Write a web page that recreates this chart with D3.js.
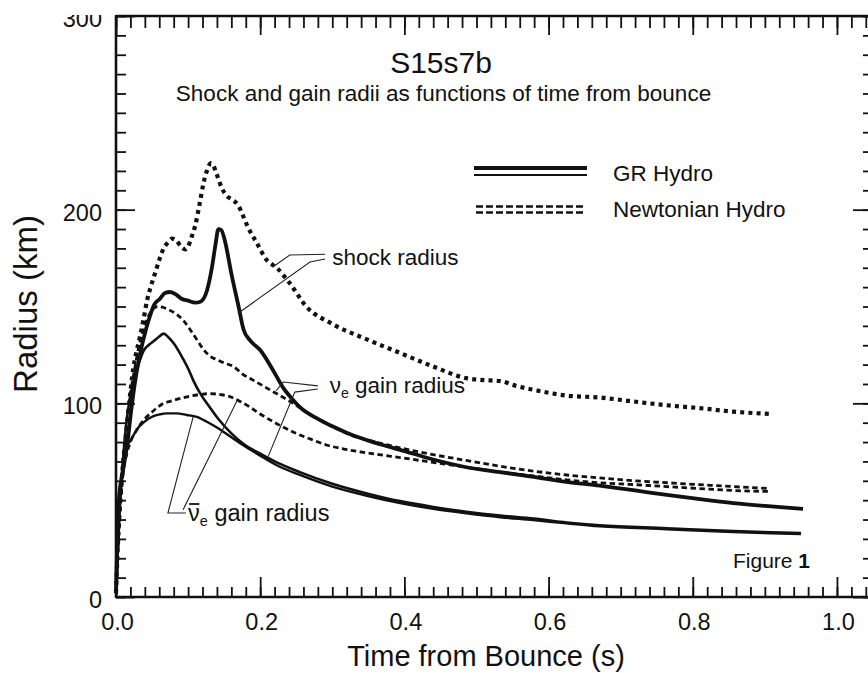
<!DOCTYPE html>
<html>
<head>
<meta charset="utf-8">
<script src="https://cdn.jsdelivr.net/npm/d3@7"></script>
<style>
  body { margin: 0; background: #fff; }
  svg { display: block; }
  text { font-family: "Liberation Sans", Arial, Helvetica, sans-serif; fill: #111; }
</style>
</head>
<body>
<svg id="chart" width="868" height="673"></svg>
<script>
// Time from bounce (s) vs radius (km), model S15s7b

// GR hydro: shock radius
const grShock = [
  [0,2],[0.002,30],[0.004,50],[0.01,66],[0.016,80],[0.021,96],[0.026,110],[0.032,123],
  [0.038,133],[0.047,145],[0.053,151],[0.061,154],[0.068,157],[0.075,157.5],[0.084,156],
  [0.091,154],[0.1,153],[0.11,152],[0.117,152.5],[0.126,158],[0.133,170],[0.138,182],
  [0.142,190],[0.146,189.5],[0.151,184],[0.16,167],[0.17,150],[0.177,138],[0.186,132.5],
  [0.2,127.5],[0.218,117],[0.232,108],[0.245,102],[0.255,98],[0.28,92],[0.301,88],
  [0.325,84],[0.348,81],[0.37,78.5],[0.394,76],[0.44,71],[0.486,67],[0.533,64.5],
  [0.579,62],[0.625,59.5],[0.671,57.5],[0.72,55],[0.764,52.7],[0.81,50.5],[0.856,48.5],
  [0.9,47],[0.953,45.5]
];

// GR hydro: nu_e gain radius
const grGainNuE = [
  [0,2],[0.003,30],[0.006,52],[0.01,72],[0.015,92],[0.02,104],[0.026,114],[0.032,121],
  [0.038,127],[0.045,130],[0.052,132],[0.06,134.5],[0.066,136],[0.073,134],[0.08,131],
  [0.087,127],[0.093,123],[0.1,118],[0.107,112],[0.117,105],[0.13,98],[0.144,91],
  [0.16,84.5],[0.177,79],[0.2,74],[0.223,69.5],[0.255,64.5],[0.3,58.5],[0.348,53.5],
  [0.394,49.5],[0.44,46.5],[0.486,44],[0.533,42],[0.579,40.5],[0.625,38.5],[0.671,37],
  [0.764,35.5],[0.856,34],[0.95,33]
];

// GR hydro: anti-nu_e gain radius
const grGainNuEBar = [
  [0,2],[0.003,30],[0.006,50],[0.009,65],[0.0125,76],[0.016,79],[0.019,80],[0.025,84],
  [0.031,87.5],[0.038,90],[0.045,92],[0.053,93.5],[0.061,94.3],[0.07,94.8],[0.084,94.8],
  [0.098,94],[0.112,93],[0.126,90.5],[0.14,87.5],[0.158,83],[0.176,78.5],[0.2,73],
  [0.223,68],[0.255,63],[0.3,57],[0.348,52.3],[0.394,48.5],[0.44,45.5],[0.486,43.2],
  [0.533,41.2],[0.579,39.7],[0.625,38],[0.671,36.5],[0.764,35],[0.856,33.5],[0.95,32.5]
];

// Newtonian hydro: shock radius
const newtShock = [
  [0,2],[0.003,30],[0.006,50],[0.01,70],[0.015,88],[0.02,106],[0.024,118],[0.028,126],
  [0.033,134],[0.038,143],[0.043,153],[0.048,160],[0.054,167],[0.06,174],[0.066,180],
  [0.072,183],[0.078,185],[0.084,184],[0.09,181],[0.096,179.5],[0.1,181],[0.105,186],
  [0.11,192],[0.116,203],[0.121,213],[0.126,220],[0.132,224],[0.136,222],[0.14,218],
  [0.147,211],[0.154,207],[0.162,205],[0.17,202],[0.176,197],[0.183,191],[0.195,183],
  [0.209,174],[0.223,170],[0.241,162],[0.264,150],[0.3,141],[0.348,133],[0.394,126],
  [0.44,119],[0.486,113],[0.51,112],[0.533,111.5],[0.555,109],[0.579,107],[0.625,104],
  [0.671,103],[0.717,101],[0.764,99],[0.81,97.5],[0.856,95.7],[0.909,94.5]
];

// Newtonian hydro: nu_e gain radius
const newtGainNuE = [
  [0,2],[0.003,30],[0.006,50],[0.01,70],[0.015,90],[0.02,105],[0.026,118],[0.032,130],
  [0.038,138],[0.045,145],[0.052,149],[0.058,150],[0.066,149.5],[0.075,148],[0.084,146],
  [0.093,143],[0.102,138.5],[0.112,133],[0.121,128],[0.13,124.5],[0.14,122.5],[0.149,121],
  [0.163,119],[0.176,115],[0.19,112],[0.218,106],[0.246,100],[0.27,94],[0.3,88],
  [0.33,83],[0.36,80],[0.394,77],[0.44,73.5],[0.486,70.5],[0.533,67.5],[0.579,65],
  [0.625,63],[0.671,61.5],[0.72,60],[0.764,59],[0.81,58],[0.856,57],[0.905,56]
];

// Newtonian hydro: anti-nu_e gain radius
const newtGainNuEBar = [
  [0,2],[0.003,28],[0.006,48],[0.01,64],[0.015,74],[0.02,80],[0.03,87],[0.04,92],
  [0.05,95.5],[0.058,98],[0.066,100],[0.075,101],[0.084,102],[0.1,103.5],[0.115,104.5],
  [0.13,105],[0.145,104.5],[0.158,103.5],[0.172,101],[0.186,98],[0.2,94.5],[0.223,89.5],
  [0.25,84.5],[0.27,81.5],[0.292,78.5],[0.315,76.5],[0.338,75],[0.365,73.5],[0.394,72],
  [0.44,69.5],[0.486,67],[0.533,64.5],[0.579,62.5],[0.625,60.5],[0.671,59],[0.72,58],
  [0.764,57],[0.81,56],[0.856,55],[0.905,54.5]
];

// Axis ticks and labels
const xMajorTicks = [0, 0.2, 0.4, 0.6, 0.8, 1.0];
const xTickLabels = ["0.0", "0.2", "0.4", "0.6", "0.8", "1.0"];
const yMajorTicks = [0, 100, 200, 300];
const yTickLabels = ["0", "100", "200", "300"];

// Annotation leader lines (time, radius)
const shockLeaders = [
  [[0.169,146.4],[0.269,173],[0.29,174.5]],
  [[0.218,170.5],[0.241,176.6],[0.29,177]]
];
const nuELeaders = [
  [[0.28,109],[0.232,111],[0.222,106.5]],
  [[0.28,107.4],[0.248,105.8],[0.211,72.5]]
];
const nuEBarLeaders = [
  [[0.097,43.4],[0.072,43.4],[0.107,93]],
  [[0.093,45],[0.168,101.5]]
];

const svg = d3.select("#chart");
const x = d3.scaleLinear().domain([0, 1.05]).range([116, 873]);
const y = d3.scaleLinear().domain([0, 300]).range([597, 16]);

const ink = "#111";
const font = "'Liberation Sans', Arial, sans-serif";

// Minor and major ticks on all four sides, pointing inward
const xMinor = d3.range(0, 1.0501, 0.02);
const yMinor = d3.range(0, 301, 10);

function styleAxis(g) {
  g.select(".domain").remove();
  g.selectAll(".tick line").attr("stroke", ink).attr("stroke-width", 1.8);
}

svg.append("g").attr("transform", "translate(0,597)")
  .call(d3.axisBottom(x).tickValues(xMinor).tickSize(-10).tickFormat(""))
  .call(styleAxis);
svg.append("g").attr("transform", "translate(0,16)")
  .call(d3.axisTop(x).tickValues(xMinor).tickSize(-12).tickFormat(""))
  .call(styleAxis);
svg.append("g").attr("transform", "translate(116,0)")
  .call(d3.axisLeft(y).tickValues(yMinor).tickSize(-10).tickFormat(""))
  .call(styleAxis);
svg.append("g").attr("transform", "translate(873,0)")
  .call(d3.axisRight(y).tickValues(yMinor).tickSize(-10).tickFormat(""))
  .call(styleAxis);

// Major ticks with labels
const xAxis = svg.append("g").attr("transform", "translate(0,597)")
  .call(d3.axisBottom(x).tickValues(xMajorTicks).tickSize(-20).tickPadding(16)
    .tickFormat((d, i) => xTickLabels[i]))
  .call(styleAxis);
xAxis.selectAll("text").attr("font-size", "23.5px").attr("fill", ink)
  .attr("font-family", font).attr("dx", "1");

svg.append("g").attr("transform", "translate(0,16)")
  .call(d3.axisTop(x).tickValues(xMajorTicks).tickSize(-19).tickFormat(""))
  .call(styleAxis);

// The page edge trims the top of the uppermost radius label
svg.append("defs").append("clipPath").attr("id", "pageTop")
  .append("rect").attr("x", 0).attr("y", 15).attr("width", 868).attr("height", 660);

const yAxisWrap = svg.append("g").attr("clip-path", "url(#pageTop)");
const yAxis = yAxisWrap.append("g").attr("transform", "translate(116,0)")
  .call(d3.axisLeft(y).tickValues(yMajorTicks).tickSize(-19).tickPadding(14)
    .tickFormat((d, i) => yTickLabels[i]))
  .call(styleAxis);
yAxis.selectAll("text").attr("font-size", "23.5px").attr("fill", ink)
  .attr("font-family", font).attr("dy", "0.45em");

svg.append("g").attr("transform", "translate(873,0)")
  .call(d3.axisRight(y).tickValues(yMajorTicks).tickSize(-20).tickFormat(""))
  .call(styleAxis);

// Plot frame
const frame = svg.append("g").attr("stroke", ink).attr("stroke-width", 2.6).attr("fill", "none");
frame.append("line").attr("x1", x(0)).attr("x2", x(0)).attr("y1", y(300) - 1).attr("y2", y(0) + 1);
frame.append("line").attr("x1", x(0)).attr("x2", x(1.05)).attr("y1", y(300)).attr("y2", y(300));
frame.append("line").attr("x1", x(0)).attr("x2", x(1.05)).attr("y1", y(0)).attr("y2", y(0));

// Curves
const line = d3.line().x(d => x(d[0])).y(d => y(d[1])).curve(d3.curveMonotoneX);
const curves = [
  { data: newtShock, width: 4.2, dash: "4,4.2" },
  { data: newtGainNuE, width: 2.8, dash: "5.5,3.5" },
  { data: newtGainNuEBar, width: 2.8, dash: "5.5,3.5" },
  { data: grGainNuE, width: 2.6, dash: null },
  { data: grGainNuEBar, width: 2.4, dash: null },
  { data: grShock, width: 3.8, dash: null }
];
svg.append("g").selectAll("path").data(curves).join("path")
  .attr("d", d => line(d.data))
  .attr("fill", "none")
  .attr("stroke", ink)
  .attr("stroke-width", d => d.width)
  .attr("stroke-dasharray", d => d.dash)
  .attr("stroke-linejoin", "round");

// Leader lines
const leader = d3.line().x(d => x(d[0])).y(d => y(d[1]));
svg.append("g").selectAll("path")
  .data([...shockLeaders, ...nuELeaders, ...nuEBarLeaders]).join("path")
  .attr("d", leader).attr("fill", "none").attr("stroke", "#222").attr("stroke-width", 1.1);

// Annotation labels
svg.append("text").attr("x", x(0.3)).attr("y", y(171.5)).attr("font-size", "22.5px")
  .text("shock radius");

const nuLab = svg.append("text").attr("x", x(0.2965)).attr("y", y(105.5)).attr("font-size", "22.5px");
nuLab.append("tspan").text("ν");
nuLab.append("tspan").attr("font-size", "14px").attr("dy", "5").text("e");
nuLab.append("tspan").attr("dy", "-5").text(" gain radius");

const barX = x(0.1), barY = y(39.5);
const nuBarLab = svg.append("text").attr("x", barX).attr("y", barY).attr("font-size", "23.5px");
nuBarLab.append("tspan").text("ν");
nuBarLab.append("tspan").attr("font-size", "14.5px").attr("dy", "5").text("e");
nuBarLab.append("tspan").attr("dy", "-5").text(" gain radius");
// bar over the nu
const nuWidth = nuBarLab.node().getSubStringLength(0, 1);
svg.append("line").attr("x1", barX + 1).attr("x2", barX + nuWidth - 0.5)
  .attr("y1", barY - 16.5).attr("y2", barY - 16.5)
  .attr("stroke", ink).attr("stroke-width", 1.8);

// Titles
svg.append("text").attr("x", 441).attr("y", 73).attr("text-anchor", "middle")
  .attr("font-size", "30px").text("S15s7b");
svg.append("text").attr("x", 443.5).attr("y", 101).attr("text-anchor", "middle")
  .attr("font-size", "22.5px").text("Shock and gain radii as functions of time from bounce");

// Legend
const legend = svg.append("g");
legend.append("line").attr("x1", 474).attr("x2", 587).attr("y1", 168).attr("y2", 168)
  .attr("stroke", ink).attr("stroke-width", 4);
legend.append("line").attr("x1", 474).attr("x2", 587).attr("y1", 175).attr("y2", 175)
  .attr("stroke", ink).attr("stroke-width", 2);
legend.append("line").attr("x1", 476).attr("x2", 584).attr("y1", 206.5).attr("y2", 206.5)
  .attr("stroke", ink).attr("stroke-width", 2.6).attr("stroke-dasharray", "7,3");
legend.append("line").attr("x1", 476).attr("x2", 584).attr("y1", 212.5).attr("y2", 212.5)
  .attr("stroke", ink).attr("stroke-width", 2.6).attr("stroke-dasharray", "7,3");
legend.append("text").attr("x", 613).attr("y", 181).attr("font-size", "22.5px").text("GR Hydro");
legend.append("text").attr("x", 613).attr("y", 217).attr("font-size", "22.5px").text("Newtonian Hydro");

// Axis titles
svg.append("text").attr("transform", "translate(37,304) rotate(-90)")
  .attr("text-anchor", "middle").attr("font-size", "33px").text("Radius (km)");
svg.append("text").attr("x", 486).attr("y", 666).attr("text-anchor", "middle")
  .attr("font-size", "29px").text("Time from Bounce (s)");

// Figure tag
const fig = svg.append("text").attr("x", 733).attr("y", 568).attr("font-size", "21px");
fig.append("tspan").text("Figure ");
fig.append("tspan").attr("font-weight", "bold").text("1");
</script>
</body>
</html>
